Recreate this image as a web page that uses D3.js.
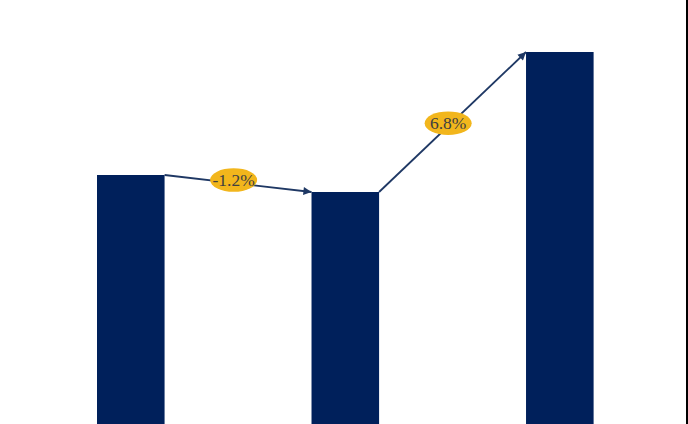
<!DOCTYPE html>
<html><head><meta charset="utf-8">
<script src="https://cdn.jsdelivr.net/npm/d3@7"></script>
<style>html,body{margin:0;padding:0;background:#fff;overflow:hidden}</style>
</head><body>
<svg id="c" width="688" height="424"></svg>
<script>
const categories = ["A", "B", "C"];
const values = [249, 232, 372];
const growthLabels = ["-1.2%", "6.8%"];

const W = 688, H = 424;
const svg = d3.select("#c");
const navy = "#00205B";

const x = d3.scaleBand().domain(categories).range([97, 593.6]).paddingInner(0.685).paddingOuter(0);
const y = d3.scaleLinear().domain([0, 424]).range([424, 0]);

svg.append("defs").append("marker")
  .attr("id", "ah").attr("viewBox", "0 0 10 10").attr("refX", 10).attr("refY", 5)
  .attr("markerWidth", 5).attr("markerHeight", 4.5).attr("markerUnits", "strokeWidth")
  .attr("orient", "auto")
  .append("path").attr("d", "M0,0 L10,5 L0,10 z").attr("fill", "#1F3864");

svg.selectAll("rect.bar").data(values).join("rect").attr("class", "bar")
  .attr("x", (d, i) => x(categories[i]))
  .attr("width", x.bandwidth())
  .attr("y", d => y(d))
  .attr("height", d => H - y(d) + 10)
  .attr("fill", navy);

const arrows = growthLabels.map((lab, i) => ({
  x1: x(categories[i]) + x.bandwidth(), y1: y(values[i]),
  x2: x(categories[i + 1]), y2: y(values[i + 1]), lab
}));

svg.selectAll("line.arr").data(arrows).join("line").attr("class", "arr")
  .attr("x1", d => d.x1).attr("y1", d => d.y1)
  .attr("x2", d => d.x2).attr("y2", d => d.y2)
  .attr("stroke", "#1F3864").attr("stroke-width", 1.8)
  .attr("marker-end", "url(#ah)");

const g = svg.selectAll("g.lab").data(arrows).join("g").attr("class", "lab")
  .attr("transform", d => {
    const t = 0.47;
    return `translate(${d.x1 + (d.x2 - d.x1) * t},${d.y1 + (d.y2 - d.y1) * t - 3})`;
  });
g.append("ellipse").attr("rx", 23.5).attr("ry", 11.8).attr("fill", "#F2B61C");
g.append("text").text(d => d.lab)
  .attr("text-anchor", "middle").attr("dy", "0.35em")
  .attr("font-family", "Liberation Serif, Times New Roman, serif")
  .attr("font-size", 17.5).attr("fill", "#404040");

svg.append("line").attr("x1", W - 1).attr("x2", W - 1).attr("y1", 0).attr("y2", H)
  .attr("stroke", "#000").attr("stroke-width", 2);
</script>
</body></html>
